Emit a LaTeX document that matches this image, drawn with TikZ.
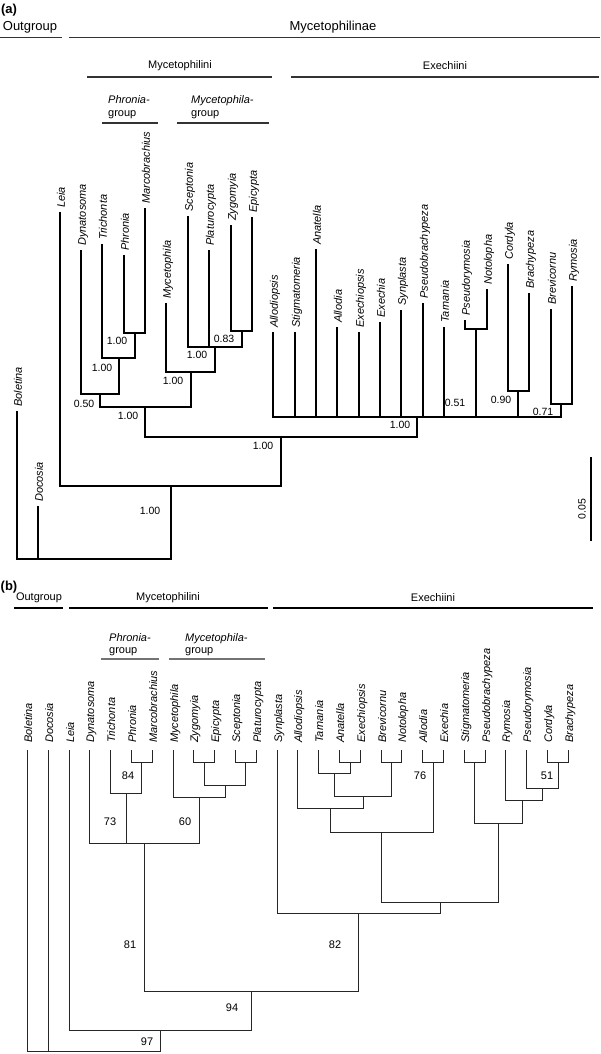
\documentclass[tikz,border=0pt]{standalone}
\usepackage{fontspec}
\setmainfont{Liberation Sans}
\newcommand\tipa[3]{\coordinate (a-#1) at ({round(17+21.35*#2)},#3);
  \node[taxon] (la-#1) at ({round(17+21.35*#2)+4.8},{#3-5}) {#1};}
\newcommand\tipb[2]{\coordinate (b-#1) at ({round(27+20.8*#2)+0.5},751);
  \node[taxon] (lb-#1) at ({round(27+20.8*#2)+5.2},743) {#1};}
\newcommand\joinA[2]{\foreach \c in {#2} {\draw[brA] (a-\c) |- (a-#1);}}
\newcommand\joinB[2]{\foreach \c in {#2} {\draw[brB] (b-\c) |- (b-#1);}}
\newcommand\inb[3]{\coordinate (b-#1) at (#2+0.5,#3+0.5);}
\begin{document}
\begin{tikzpicture}[x=1pt,y=-1pt,
  taxon/.style={rotate=90, anchor=base west, inner sep=0pt, font=\fontsize{11}{13}\selectfont\itshape},
  supp/.style={inner sep=0pt, font=\fontsize{10.5}{12}\selectfont},
  suppb/.style={inner sep=0pt, font=\fontsize{11}{13}\selectfont},
  brA/.style={line width=2pt, line cap=rect},
  brB/.style={line width=1.25pt, line cap=rect, draw=black!85},
  hdrL/.style={font=\fontsize{13}{15}\selectfont, inner sep=0pt},
  hdrM/.style={font=\fontsize{11}{13}\selectfont, inner sep=0pt},
  grp/.style={font=\fontsize{11}{13}\selectfont, inner sep=0pt, anchor=base west},
  rulea/.style={line width=1.2pt, draw=black!80},
  grule/.style={line width=1.3pt, draw=black!55}]
\useasboundingbox (0,0) rectangle (600,1054);

% ---------------- panel (a) headers
\node[hdrL, font=\fontsize{13}{15}\selectfont\bfseries] (pa) at (9,10) {(a)};
\node[hdrL] (ha-out) at (30,27) {Outgroup};
\node[hdrL] (ha-myc) at (333,27) {Mycetophilinae};
\draw[rulea] (0,37.5) -- (62,37.5);
\draw[rulea] (69,37.5) -- (600,37.5);
\node[hdrM] (ha-mini) at (180,66) {Mycetophilini};
\node[hdrM] (ha-exe) at (445,66) {Exechiini};
\draw[rulea] (87,77) -- (272,77);
\draw[rulea] (291,77) -- (599,77);
\node[grp] (ha-ph1) at (108,104) {\itshape Phronia-};
\node[grp] (ha-ph2) at (108,116.5) {group};
\node[grp] (ha-my1) at (191,104) {\itshape Mycetophila-};
\node[grp] (ha-my2) at (191,116.5) {group};
\draw[rulea] (102,123) -- (158,123);
\draw[rulea] (177,123) -- (269,123);

% ---------------- panel (a) tips
\tipa{Boletina}{0}{412}
\tipa{Docosia}{1}{507}
\tipa{Leia}{2}{213}
\tipa{Dynatosoma}{3}{251}
\tipa{Trichonta}{4}{245}
\tipa{Phronia}{5}{256}
\tipa{Marcobrachius}{6}{209}
\tipa{Mycetophila}{7}{304}
\tipa{Sceptonia}{8}{217}
\tipa{Platurocypta}{9}{251}
\tipa{Zygomyia}{10}{226}
\tipa{Epicypta}{11}{218}
\tipa{Allodiopsis}{12}{333}
\tipa{Stigmatomeria}{13}{333}
\tipa{Anatella}{14}{250}
\tipa{Allodia}{15}{328}
\tipa{Exechiopsis}{16}{333}
\tipa{Exechia}{17}{323}
\tipa{Synplasta}{18}{311}
\tipa{Pseudobrachypeza}{19}{304}
\tipa{Tarnania}{20}{328}
\tipa{Pseudorymosia}{21}{321}
\tipa{Notolopha}{22}{290}
\tipa{Cordyla}{23}{265}
\tipa{Brachypeza}{24}{294}
\tipa{Brevicornu}{25}{310}
\tipa{Rymosia}{26}{287}

% ---------------- panel (a) internal nodes
\coordinate (a-PM) at (135,333);
\coordinate (a-TPM) at (119,358);
\coordinate (a-DTPM) at (100,394);
\coordinate (a-ZE) at (242,331);
\coordinate (a-MG) at (215,347);
\coordinate (a-MMG) at (191,372);
\coordinate (a-MYC) at (145,407);
\coordinate (a-PN) at (476,329);
\coordinate (a-CB) at (518,391);
\coordinate (a-BR) at (561,404);
\coordinate (a-EX) at (417,417);
\coordinate (a-MYCE) at (281,437);
\coordinate (a-LM) at (171,486);
\coordinate (a-root) at (17,559);

\joinA{PM}{Phronia,Marcobrachius}
\joinA{TPM}{Trichonta,PM}
\joinA{DTPM}{Dynatosoma,TPM}
\joinA{ZE}{Zygomyia,Epicypta}
\joinA{MG}{Sceptonia,Platurocypta,ZE}
\joinA{MMG}{Mycetophila,MG}
\joinA{MYC}{DTPM,MMG}
\joinA{PN}{Pseudorymosia,Notolopha}
\joinA{CB}{Cordyla,Brachypeza}
\joinA{BR}{Brevicornu,Rymosia}
\joinA{EX}{Allodiopsis,Stigmatomeria,Anatella,Allodia,Exechiopsis,Exechia,Synplasta,Pseudobrachypeza,Tarnania,PN,CB,BR}
\joinA{MYCE}{MYC,EX}
\joinA{LM}{Leia,MYCE}
\joinA{root}{Boletina,Docosia,LM}

% supports (a)
\node[supp] (sa-PM) at (117,341) {1.00};
\node[supp] (sa-TPM) at (102,368) {1.00};
\node[supp] (sa-DTPM) at (84,404) {0.50};
\node[supp] (sa-ZE) at (224,339) {0.83};
\node[supp] (sa-MG) at (197,355) {1.00};
\node[supp] (sa-MMG) at (173,381) {1.00};
\node[supp] (sa-MYC) at (128,416) {1.00};
\node[supp] (sa-EX) at (400,425) {1.00};
\node[supp] (sa-PN) at (455,403) {0.51};
\node[supp] (sa-CB) at (501,400) {0.90};
\node[supp] (sa-BR) at (543,412) {0.71};
\node[supp] (sa-MYCE) at (263,446) {1.00};
\node[supp] (sa-LM) at (150,511) {1.00};

% scale bar
\coordinate (sb-top) at (591,457);
\coordinate (sb-bot) at (591,541);
\draw[brA, line cap=butt] (sb-top) -- (sb-bot);
\node[supp, rotate=90] (sb-lab) at (582,509) {0.05};

% ---------------- panel (b) headers
\node[hdrL, font=\fontsize{13}{15}\selectfont\bfseries] (pb) at (9,587) {(b)};
\node[hdrM] (hb-out) at (39,598) {Outgroup};
\node[hdrM] (hb-mini) at (168,598) {Mycetophilini};
\node[hdrM] (hb-exe) at (433,598) {Exechiini};
\draw[rulea, draw=black] (14,608) -- (63,608);
\draw[rulea, draw=black] (69,608) -- (268,608);
\draw[rulea, draw=black] (273,608) -- (593,608);
\node[grp] (hb-ph1) at (109,641) {\itshape Phronia-};
\node[grp] (hb-ph2) at (109,653) {group};
\node[grp] (hb-my1) at (185,641) {\itshape Mycetophila-};
\node[grp] (hb-my2) at (185,653) {group};
\draw[grule] (101,659) -- (159,659);
\draw[grule] (169,659) -- (265,659);

% ---------------- panel (b) tips
\tipb{Boletina}{0}
\tipb{Docosia}{1}
\tipb{Leia}{2}
\tipb{Dynatosoma}{3}
\tipb{Trichonta}{4}
\tipb{Phronia}{5}
\tipb{Marcobrachius}{6}
\tipb{Mycetophila}{7}
\tipb{Zygomyia}{8}
\tipb{Epicypta}{9}
\tipb{Sceptonia}{10}
\tipb{Platurocypta}{11}
\tipb{Synplasta}{12}
\tipb{Allodiopsis}{13}
\tipb{Tarnania}{14}
\tipb{Anatella}{15}
\tipb{Exechiopsis}{16}
\tipb{Brevicornu}{17}
\tipb{Notolopha}{18}
\tipb{Allodia}{19}
\tipb{Exechia}{20}
\tipb{Stigmatomeria}{21}
\tipb{Pseudobrachypeza}{22}
\tipb{Rymosia}{23}
\tipb{Pseudorymosia}{24}
\tipb{Cordyla}{25}
\tipb{Brachypeza}{26}

% ---------------- panel (b) internal nodes
\inb{PM}{141}{762}
\inb{TPM}{126}{793}
\inb{ZE}{204}{762}
\inb{SP}{245}{762}
\inb{ZESP}{225}{785}
\inb{MG}{199}{797}
\inb{MYC}{144}{843}
\inb{AE}{350}{762}
\inb{TAE}{334}{773}
\inb{BN}{391}{762}
\inb{TAEBN}{363}{796}
\inb{ATB}{330}{808}
\inb{AlEx}{433}{762}
\inb{X1}{381}{832}
\inb{SPb}{474}{762}
\inb{CB}{558}{762}
\inb{PCB}{542}{788}
\inb{RPCB}{522}{800}
\inb{Y}{498}{823}
\inb{Z}{440}{902}
\inb{EXE}{358}{913}
\inb{MM}{251}{991}
\inb{L}{160}{1030}
\inb{root}{27}{1051}

\joinB{PM}{Phronia,Marcobrachius}
\joinB{TPM}{Trichonta,PM}
\joinB{ZE}{Zygomyia,Epicypta}
\joinB{SP}{Sceptonia,Platurocypta}
\joinB{ZESP}{ZE,SP}
\joinB{MG}{Mycetophila,ZESP}
\joinB{MYC}{Dynatosoma,TPM,MG}
\joinB{AE}{Anatella,Exechiopsis}
\joinB{TAE}{Tarnania,AE}
\joinB{BN}{Brevicornu,Notolopha}
\joinB{TAEBN}{TAE,BN}
\joinB{ATB}{Allodiopsis,TAEBN}
\joinB{AlEx}{Allodia,Exechia}
\joinB{X1}{ATB,AlEx}
\joinB{SPb}{Stigmatomeria,Pseudobrachypeza}
\joinB{CB}{Cordyla,Brachypeza}
\joinB{PCB}{Pseudorymosia,CB}
\joinB{RPCB}{Rymosia,PCB}
\joinB{Y}{SPb,RPCB}
\joinB{Z}{X1,Y}
\joinB{EXE}{Synplasta,Z}
\joinB{MM}{MYC,EXE}
\joinB{L}{Leia,MM}
\joinB{root}{Boletina,Docosia,L}

% supports (b)
\node[suppb] (sb-PM) at (128,776) {84};
\node[suppb] (sb-TPM) at (110,822) {73};
\node[suppb] (sb-MG) at (185,822) {60};
\node[suppb] (sb-AlEx) at (420,776) {76};
\node[suppb] (sb-CB) at (547,776) {51};
\node[suppb] (sb-MYC) at (130,945) {81};
\node[suppb] (sb-EXE) at (335,945) {82};
\node[suppb] (sb-MM) at (232,1008) {94};
\node[suppb] (sb-L) at (147,1042) {97};
\end{tikzpicture}
\end{document}
